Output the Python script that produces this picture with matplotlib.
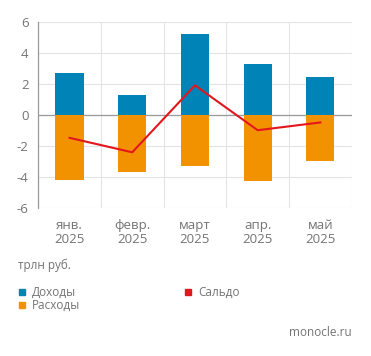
import numpy as np
import matplotlib
matplotlib.use("Agg")
import matplotlib.pyplot as plt
from matplotlib.patches import Rectangle

months  = ["янв.\n2025", "февр.\n2025", "март\n2025", "апр.\n2025", "май\n2025"]
income  = [2.71, 1.26, 5.18, 3.27, 2.47]
expense = [-4.18, -3.66, -3.27, -4.25, -2.95]
balance = [-1.47, -2.40, 1.91, -0.98, -0.48]

BLUE   = "#0083b6"
ORANGE = "#f39200"
RED    = "#e3161e"
GREY   = "#747474"

plt.rcParams["font.family"] = ["Open Sans", "DejaVu Sans"]
plt.rcParams["axes.unicode_minus"] = False

fig = plt.figure(figsize=(3.71, 3.56), dpi=100)
ax = fig.add_axes([0.103, 0.415, 0.845, 0.524])

x = np.arange(len(months))
ax.bar(x, income, width=0.45, color=BLUE, zorder=3)
ax.bar(x, expense, width=0.45, color=ORANGE, zorder=3)
ax.plot(x, balance, color=RED, linewidth=1.5, zorder=4)

ax.set_xlim(-0.5, len(months) - 0.5)
ax.set_ylim(-6, 6)
ax.set_yticks(np.arange(-6, 7, 2))
ax.set_xticks(x)
ax.set_xticklabels(months, fontsize=9.5, color=GREY, linespacing=1.05)
ax.tick_params(axis="y", labelsize=9.5, colors=GREY, length=0, pad=7)
ax.tick_params(axis="x", length=0, pad=8)

ax.set_xticks(np.arange(-0.5, len(months), 1), minor=True)
ax.grid(True, axis="y", color="#e4e4e4", linewidth=0.8, zorder=0)
ax.grid(True, axis="x", which="minor", color="#e4e4e4", linewidth=0.8, zorder=0)
ax.tick_params(axis="x", which="minor", length=0)
ax.axhline(0, color="#9a9a9a", linewidth=0.9, zorder=2)

for side in ["top", "right", "bottom"]:
    ax.spines[side].set_visible(False)
ax.spines["left"].set_color("#9a9a9a")
ax.spines["left"].set_linewidth(0.9)

fig.text(18 / 371, 1 - 265 / 356, "трлн руб.", fontsize=8.5, color=GREY, va="center")

legend_items = [("Доходы", BLUE, 22, 292), ("Расходы", ORANGE, 22, 305), ("Сальдо", RED, 188, 292)]
for label, col, px, py in legend_items:
    fig.patches.append(Rectangle((px / 371 - 3 / 371, 1 - py / 356 - 3 / 356), 6 / 371, 6 / 356,
                                 transform=fig.transFigure, color=col))
    fig.text((px + 10) / 371, 1 - py / 356, label, fontsize=8.5, color=GREY, va="center")

fig.text(352 / 371, 1 - 333 / 356, "monocle.ru", fontsize=8.5, color=GREY, ha="right", va="center")

fig.savefig("out.png", dpi=100)
